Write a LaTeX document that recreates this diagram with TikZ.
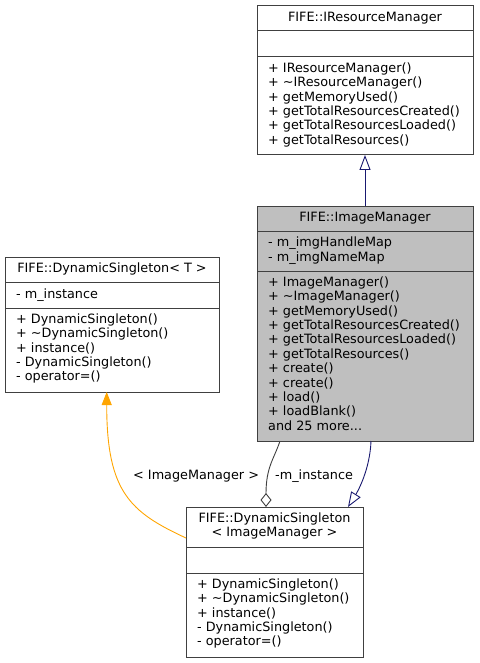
\documentclass[tikz,border=0pt]{standalone}
\usepackage{fontspec}
\setmainfont{DejaVu Sans}
\usetikzlibrary{arrows.meta,calc}

\definecolor{gvorange}{HTML}{FFA500}
\definecolor{imnavy}{HTML}{191970}
\definecolor{edgegray}{HTML}{404040}

\tikzset{
    cls/.style={draw=edgegray, line width=1pt, anchor=north west, inner sep=0pt, outer sep=0pt},
    cur/.style={cls, fill=black!25},
    sep/.style={draw=edgegray, line width=1pt},
    mem/.style={anchor=base west, inner sep=0pt},
    ttl/.style={anchor=base, inner sep=0pt},
    lbl/.style={anchor=base west, inner sep=0pt},
    inherit/.style={draw=imnavy, line width=0.9pt, -{Triangle[open, length=15pt, width=11pt]}},
    tmpl/.style={draw=gvorange, line width=0.9pt, -{Triangle[length=13pt, width=10pt, fill=gvorange]}},
    aggr/.style={draw=edgegray, line width=0.9pt, {Diamond[open, length=14pt, width=11pt]}-},
}

\begin{document}
\begin{tikzpicture}[x=1pt, y=-1pt, font=\fontsize{12.8}{14.4}\selectfont]
        \useasboundingbox (0,0) rectangle (479,663);

        \node[cls, minimum width=216pt, minimum height=149pt] (irm) at (257,6) {};
        \node[cur, minimum width=216pt, minimum height=235pt] (im)  at (257,206) {};
        \node[cls, minimum width=214pt, minimum height=135pt] (dst) at (5,257) {};
        \node[cls, minimum width=177pt, minimum height=150pt] (dsi) at (186,507) {};

        \draw[sep] (irm.west |- 0,31)  -- (irm.east |- 0,31);
        \draw[sep] (irm.west |- 0,57)  -- (irm.east |- 0,57);
        \draw[sep] (im.west  |- 0,231.5) -- (im.east |- 0,231.5);
        \draw[sep] (im.west  |- 0,271) -- (im.east  |- 0,271);
        \draw[sep] (dst.west |- 0,282.5) -- (dst.east |- 0,282.5);
        \draw[sep] (dst.west |- 0,308) -- (dst.east |- 0,308);
        \draw[sep] (dsi.west |- 0,547.5) -- (dsi.east |- 0,547.5);
        \draw[sep] (dsi.west |- 0,573) -- (dsi.east |- 0,573);

        \node[ttl] (irmtitle) at (365,21.5) {FIFE::IResourceManager};
        \foreach \txt [count=\i from 0] in {+ IResourceManager(), + \textasciitilde IResourceManager(),
                + getMemoryUsed(), + getTotalResourcesCreated(), + getTotalResourcesLoaded(),
                + getTotalResources()}
            \node[mem] at (268, {72.3+14.4*\i}) {\txt};

        \node[ttl] (imtitle) at (365,221.5) {FIFE::ImageManager};
        \node[mem] at (268,246.7) {- m\_imgHandleMap};
        \node[mem] at (268,261.1) {- m\_imgNameMap};
        \foreach \txt [count=\i from 0] in {+ ImageManager(), + \textasciitilde ImageManager(),
                + getMemoryUsed(), + getTotalResourcesCreated(), + getTotalResourcesLoaded(),
                + getTotalResources(), + create(), + create(), + load(), + loadBlank()}
            \node[mem] at (268, {286.3+14.4*\i}) {\txt};
        \node[mem] (immore) at (268,430.3) {and 25 more...};

        \node[ttl] (dsttitle) at (112,272.5) {FIFE::DynamicSingleton< T >};
        \node[mem] at (16,298) {- m\_instance};
        \foreach \txt [count=\i from 0] in {+ DynamicSingleton(), + \textasciitilde DynamicSingleton(),
                + instance(), - DynamicSingleton(), - operator=()}
            \node[mem] at (16, {323.3+14.4*\i}) {\txt};

        \node[ttl] (dsititle) at (274.5,522.5) {FIFE::DynamicSingleton};
        \node[ttl] at (274.5,536.9) {< ImageManager >};
        \foreach \txt [count=\i from 0] in {+ DynamicSingleton(), + \textasciitilde DynamicSingleton(),
                + instance(), - DynamicSingleton(), - operator=()}
            \node[mem] at (197, {588.3+14.4*\i}) {\txt};

        \draw[inherit] ($(im.north west)+(108,0)$) -- ($(irm.south west)+(108,0)$);
        \draw[inherit] ($(im.south west)+(114,0)$)
            .. controls +(-1,28) and +(10,-16) .. ($(dsi.north west)+(162,0)$);
        \draw[aggr] ($(dsi.north west)+(80,0)$)
            .. controls +(0,-40) and +(-6,18) .. ($(im.south west)+(23,0)$);
        \draw[tmpl] ($(dsi.north west)+(0,31)$)
            .. controls +(-56,-26) and +(0,100) .. ($(dst.south west)+(101.7,0)$);

        \node[lbl] (tmpllabel) at (133,479) {< ImageManager >};
        \node[lbl] (instlabel) at (275,479) {-m\_instance};
\end{tikzpicture}
\end{document}
